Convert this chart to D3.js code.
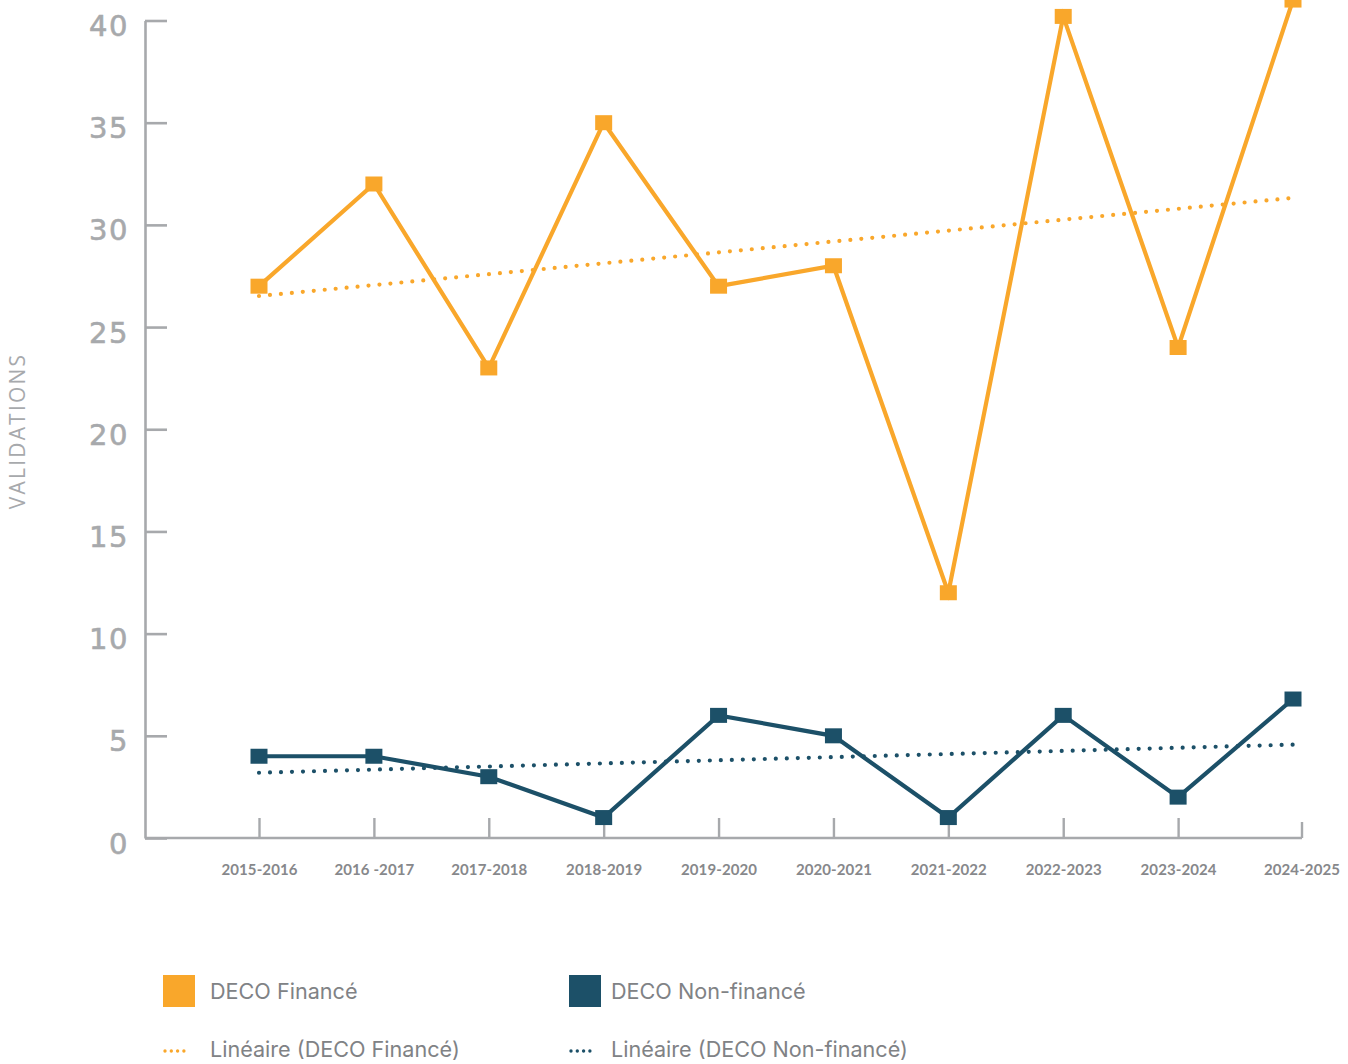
<!DOCTYPE html>
<html>
<head>
<meta charset="utf-8">
<script src="https://cdn.jsdelivr.net/npm/d3@7"></script>
<style>
  html, body { margin: 0; padding: 0; background: #ffffff; }
  svg { display: block; }
</style>
</head>
<body>
<svg id="chart" width="1348" height="1064"></svg>
<script>
// ---- DATA ----
const categories = ["2015-2016", "2016 -2017", "2017-2018", "2018-2019", "2019-2020",
                    "2020-2021", "2021-2022", "2022-2023", "2023-2024", "2024-2025"];
const financeValues = [27, 32, 23, 35, 27, 28, 12, 40.2, 24, 41];
const nonFinanceValues = [4, 4, 3, 1, 6, 5, 1, 6, 2, 6.8];
const yTicks = [0, 5, 10, 15, 20, 25, 30, 35, 40];
const seriesNames = ["DECO Financé", "DECO Non-financé"];
const trendNames = ["Linéaire (DECO Financé)", "Linéaire (DECO Non-financé)"];
const yTitle = "VALIDATIONS";

// ---- STYLE ----
const ORANGE = "#F9A72B";
const TEAL = "#1C5068";
const AXIS = "#A7A9AC";
const XLAB = "#87888B";
const LEG = "#808285";

const svg = d3.select("#chart");

const x = d3.scalePoint().domain(categories).range([259, 1293]);
const y = d3.scaleLinear().domain([0, 40]).range([838, 20.5]);
const axisLeftX = 145, axisRightX = 1302;

// Linear regression (trendline like Excel)
function linreg(vals) {
  const n = vals.length;
  const xs = vals.map((_, i) => i);
  const mx = d3.mean(xs), my = d3.mean(vals);
  let sxy = 0, sxx = 0;
  for (let i = 0; i < n; i++) { sxy += (xs[i] - mx) * (vals[i] - my); sxx += (xs[i] - mx) ** 2; }
  const b = sxy / sxx, a = my - b * mx;
  return vals.map((_, i) => a + b * i);
}

// ---- Y AXIS ----
const yAxis = d3.axisLeft(y).tickValues(yTicks).tickSize(-22).tickSizeOuter(0).tickPadding(0);
const gy = svg.append("g").attr("transform", `translate(${axisLeftX},0)`).call(yAxis);
gy.select(".domain").attr("stroke", AXIS).attr("stroke-width", 2.6);
gy.selectAll(".tick line").attr("stroke", AXIS).attr("stroke-width", 2.6);
gy.selectAll(".tick text")
  .attr("x", -16).attr("dy", "0.52em")
  .attr("fill", AXIS)
  .style("font-family", "'DejaVu Sans', sans-serif")
  .style("font-weight", "400")
  .style("font-size", "29px")
  .style("letter-spacing", "1.5px")
  .style("stroke", AXIS).style("stroke-width", "0.6px");

// ---- X AXIS ----
const xAxis = d3.axisBottom(x).tickSize(-20).tickSizeOuter(0).tickPadding(0);
const gx = svg.append("g").attr("transform", `translate(0,${y(0)})`).call(xAxis);
gx.select(".domain").remove();
gx.append("line").attr("x1", axisLeftX).attr("x2", axisRightX).attr("y1", 0).attr("y2", 0)
  .attr("stroke", AXIS).attr("stroke-width", 2.6);
gx.selectAll(".tick line").attr("stroke", AXIS).attr("stroke-width", 2.4);
// last category tick sits at the end of the axis
gx.selectAll(".tick").filter(d => d === categories[categories.length - 1])
  .attr("transform", `translate(${axisRightX},0)`)
  .select("line").attr("y2", -16);
gx.selectAll(".tick text")
  .attr("y", 37).attr("dy", 0)
  .attr("fill", XLAB)
  .style("font-family", "Lato, 'Noto Sans', sans-serif")
  .style("font-weight", "700")
  .style("font-size", "15px")
  .style("letter-spacing", "0.1px");

// ---- Y TITLE ----
svg.append("text")
  .attr("transform", "translate(25,431) rotate(-90)")
  .attr("text-anchor", "middle")
  .attr("fill", AXIS)
  .style("font-family", "'Open Sans', sans-serif")
  .style("font-weight", "400")
  .style("font-size", "21px")
  .style("letter-spacing", "2.2px")
  .text(yTitle);

// ---- SERIES ----
const line = d3.line().x((d, i) => x(categories[i])).y(d => y(d));

function drawSeries(vals, color) {
  const trend = linreg(vals);
  svg.append("path").datum(trend)
    .attr("d", line).attr("fill", "none")
    .attr("stroke", color).attr("stroke-width", 4.2)
    .attr("stroke-linecap", "round").attr("stroke-dasharray", "0 11");
  svg.append("path").datum(vals)
    .attr("d", line).attr("fill", "none")
    .attr("stroke", color).attr("stroke-width", 4.2)
    .attr("stroke-linejoin", "miter");
  svg.append("g").selectAll("rect").data(vals).join("rect")
    .attr("x", (d, i) => x(categories[i]) - 8.5)
    .attr("y", d => y(d) - 7.5)
    .attr("width", 17).attr("height", 15)
    .attr("fill", color);
}
drawSeries(financeValues, ORANGE);
drawSeries(nonFinanceValues, TEAL);

// ---- LEGEND ----
const legColors = [ORANGE, TEAL];
const legX = [163, 569];
const leg = svg.append("g");
legColors.forEach((c, i) => {
  leg.append("rect").attr("x", legX[i]).attr("y", 975).attr("width", 32).attr("height", 32).attr("fill", c);
  leg.append("text").attr("x", legX[i] + 47 - (i ? 5 : 0)).attr("y", 999)
    .attr("fill", LEG)
    .style("font-family", "Inter, sans-serif").style("font-size", "21.6px")
    .text(seriesNames[i]);
  leg.append("line").attr("x1", legX[i] + 2).attr("x2", legX[i] + 21).attr("y1", 1051).attr("y2", 1051)
    .attr("stroke", c).attr("stroke-width", 3.4).attr("stroke-linecap", "round").attr("stroke-dasharray", "0 6.3");
  leg.append("text").attr("x", legX[i] + 47 - (i ? 5 : 0)).attr("y", 1057)
    .attr("fill", LEG)
    .style("font-family", "Inter, sans-serif").style("font-size", "21.6px")
    .text(trendNames[i]);
});
</script>
</body>
</html>
